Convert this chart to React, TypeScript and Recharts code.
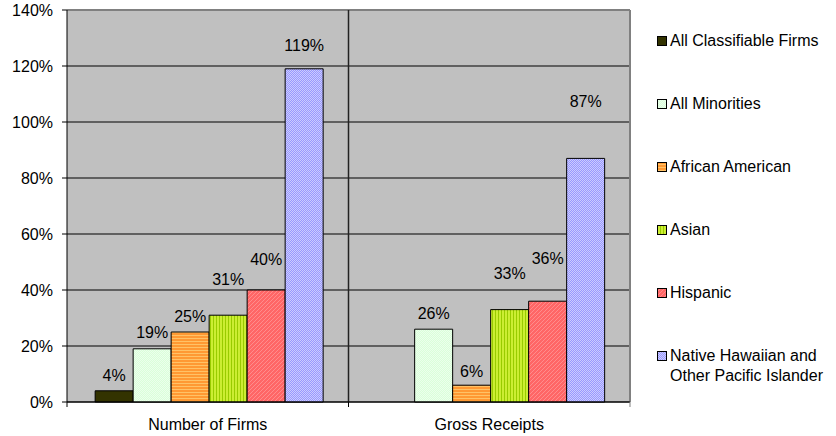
import React from 'react';
import { BarChart, Bar, XAxis, YAxis, CartesianGrid, LabelList, ReferenceLine } from 'recharts';

const categories = ['Number of Firms', 'Gross Receipts'];
const allClassifiableFirms: (number | null)[] = [0.04, null];
const allMinorities = [0.19, 0.26];
const africanAmerican = [0.25, 0.06];
const asian = [0.31, 0.33];
const hispanic = [0.4, 0.36];
const nativeHawaiian = [1.19, 0.87];
const yTicks = [0, 0.2, 0.4, 0.6, 0.8, 1.0, 1.2, 1.4];

const FONT = '"Liberation Sans", Arial, sans-serif';

const data = categories.map((c, i) => ({
  category: c,
  allClassifiable: allClassifiableFirms[i],
  allMinorities: allMinorities[i],
  african: africanAmerican[i],
  asian: asian[i],
  hispanic: hispanic[i],
  hawaiian: nativeHawaiian[i],
}));

// style: fill + how far (px) the value label sits above the bar top, per category
const series = [
  { key: 'allClassifiable', name: ['All Classifiable Firms'], fill: '#333300', lift: [15, 0] },
  { key: 'allMinorities', name: ['All Minorities'], fill: 'url(#pMin)', lift: [16, 16] },
  { key: 'african', name: ['African American'], fill: 'url(#pAfr)', lift: [16, 14] },
  { key: 'asian', name: ['Asian'], fill: 'url(#pAsian)', lift: [36, 36] },
  { key: 'hispanic', name: ['Hispanic'], fill: 'url(#pHisp)', lift: [31, 43] },
  { key: 'hawaiian', name: ['Native Hawaiian and', 'Other Pacific Islander'], fill: 'url(#pHaw)', lift: [23, 57] },
];

const Patterns = () => (
  <svg width={0} height={0} style={{ position: 'absolute' }}>
    <defs>
      <pattern id="pMin" width={2} height={2} patternUnits="userSpaceOnUse">
        <rect width={2} height={2} fill="#DAFFDA" shapeRendering="crispEdges" />
        <rect x={0} y={0} width={1} height={1} fill="#ECFFEC" shapeRendering="crispEdges" />
        <rect x={1} y={1} width={1} height={1} fill="#ECFFEC" shapeRendering="crispEdges" />
      </pattern>
      <pattern id="pAfr" width={4} height={3} patternUnits="userSpaceOnUse">
        <rect width={4} height={3} fill="#FF9933" shapeRendering="crispEdges" />
        <rect x={0} y={2} width={4} height={1} fill="#FFC266" shapeRendering="crispEdges" />
      </pattern>
      <pattern id="pAsian" width={3} height={4} patternUnits="userSpaceOnUse">
        <rect width={3} height={4} fill="#CCEE33" shapeRendering="crispEdges" />
        <rect x={0} y={0} width={1} height={4} fill="#99CC00" shapeRendering="crispEdges" />
      </pattern>
      <pattern id="pHisp" width={4} height={4} patternUnits="userSpaceOnUse">
        <rect width={4} height={4} fill="#FF6666" shapeRendering="crispEdges" />
        <rect x={0} y={3} width={1} height={1} fill="#FF8C8C" shapeRendering="crispEdges" />
        <rect x={1} y={2} width={1} height={1} fill="#FF8C8C" shapeRendering="crispEdges" />
        <rect x={2} y={1} width={1} height={1} fill="#FF8C8C" shapeRendering="crispEdges" />
        <rect x={3} y={0} width={1} height={1} fill="#FF8C8C" shapeRendering="crispEdges" />
      </pattern>
      <pattern id="pHaw" width={2} height={2} patternUnits="userSpaceOnUse">
        <rect width={2} height={2} fill="#9999FF" shapeRendering="crispEdges" />
        <rect x={0} y={0} width={1} height={1} fill="#CCCCFF" shapeRendering="crispEdges" />
        <rect x={1} y={1} width={1} height={1} fill="#CCCCFF" shapeRendering="crispEdges" />
      </pattern>
    </defs>
  </svg>
);

const XTick = (props: any) => {
  const { x, y, payload, index, visibleTicksCount } = props;
  const half = payload && payload.offset ? payload.offset : 0;
  const last = index === visibleTicksCount - 1;
  return (
    <g>
      <line x1={x - half} x2={x - half} y1={y} y2={y + 5} stroke="#000" />
      {last && <line x1={x + half} x2={x + half} y1={y} y2={y + 5} stroke="#808080" />}
      <text x={x} y={y + 22} textAnchor="middle" dominantBaseline="central" fontSize={16} fontFamily={FONT} fill="#000">
        {payload.value}
      </text>
    </g>
  );
};

const makeLabel = (lift: number[]) => (p: any) => {
  const { x, y, width, value, index } = p;
  if (value === null || value === undefined) return null;
  return (
    <text
      x={Number(x) + Number(width) / 2}
      y={Number(y) - lift[index]}
      textAnchor="middle"
      dominantBaseline="central"
      fontSize={16}
      fontFamily={FONT}
      fill="#000"
    >
      {`${Math.round(Number(value) * 100)}%`}
    </text>
  );
};

const Legend = () => (
  <div style={{ position: 'absolute', left: 657, top: 0, width: 179, height: 436, fontFamily: FONT, fontSize: 16, color: '#000' }}>
    {series.map((s, i) => {
      const cy = 41 + 63 * i;
      return (
        <div key={s.key}>
          <svg width={10} height={10} style={{ position: 'absolute', left: 0, top: cy - 5 }}>
            <rect x={0.5} y={0.5} width={9} height={9} fill={s.fill} stroke="#000" strokeWidth={1} />
          </svg>
          <div style={{ position: 'absolute', left: 13, top: cy - 10, lineHeight: '20px', whiteSpace: 'nowrap' }}>
            {s.name.map((n, j) => (
              <div key={j}>{n}</div>
            ))}
          </div>
        </div>
      );
    })}
  </div>
);

export default function App() {
  return (
    <div style={{ position: 'absolute', left: 0, top: 0, width: 836, height: 436, background: '#fff' }}>
      <Patterns />
      <BarChart
        width={836}
        height={436}
        data={data}
        margin={{ top: 10, right: 206, bottom: 0, left: 0 }}
        barCategoryGap="10%"
        barGap={0}
      >
        <CartesianGrid vertical={false} stroke="#000" fill="#C0C0C0" fillOpacity={1} />
        <XAxis
          dataKey="category"
          axisLine={{ stroke: '#000' }}
          tickLine={false}
          tickSize={0}
          tickMargin={0}
          tick={<XTick />}
          height={34}
          interval={0}
        />
        <YAxis
          domain={[0, 1.4]}
          ticks={yTicks}
          interval={0}
          width={67}
          tickFormatter={(v: number) => `${Math.round(v * 100)}%`}
          axisLine={{ stroke: '#000' }}
          tickLine={{ stroke: '#000' }}
          tickSize={5}
          tickMargin={9}
          tick={{ fill: '#000', fontSize: 16, fontFamily: FONT }}
        />
        <ReferenceLine y={1.4} stroke="#808080" strokeWidth={2} />
        <ReferenceLine x="Gross Receipts" position="start" stroke="#222" strokeWidth={1.5} />
        <ReferenceLine x="Gross Receipts" position="end" stroke="#808080" strokeWidth={2} />
        {series.map((s) => (
          <Bar key={s.key} dataKey={s.key} name={s.name.join(' ')} fill={s.fill} stroke="#000" strokeWidth={1} isAnimationActive={false}>
            <LabelList dataKey={s.key} content={makeLabel(s.lift)} />
          </Bar>
        ))}
      </BarChart>
      <Legend />
    </div>
  );
}
